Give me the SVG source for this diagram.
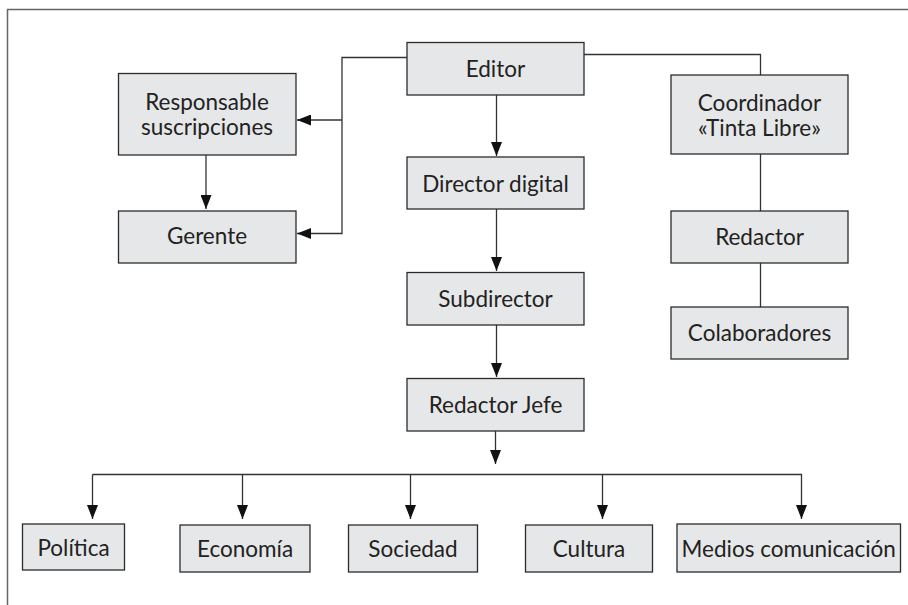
<svg xmlns="http://www.w3.org/2000/svg" width="908" height="605" viewBox="0 0 908 605">
<defs>
<style>
.box{fill:#e6e7e8;stroke:#2b2b2b;stroke-width:1.3}
.lbl{font-family:"Lato","Open Sans",sans-serif;font-size:22.5px;fill:#222;text-anchor:middle}
.ln{fill:none;stroke:#333;stroke-width:1.3}
.frame{fill:none;stroke:#666;stroke-width:1.5}
</style>
<marker id="ah" viewBox="0 0 14 11" refX="14" refY="5.5" markerWidth="14" markerHeight="11" markerUnits="userSpaceOnUse" orient="auto">
<path d="M0,0 L14,5.5 L0,11 z" fill="#111"/>
</marker>
</defs>
<rect width="908" height="605" fill="#fff"/>
<path class="frame" d="M7.5,605 V9.5 H908"/>
<g id="connectors">
<path class="ln" d="M407,57.5 H342 V233.5 H297" marker-end="url(#ah)"/>
<path class="ln" d="M342,120 H297" marker-end="url(#ah)"/>
<path class="ln" d="M584,54.5 H760.5 V75"/>
<path class="ln" d="M760.5,154 V211"/>
<path class="ln" d="M760.5,263 V307"/>
<path class="ln" d="M206,155 V209" marker-end="url(#ah)"/>
<path class="ln" d="M496.5,95 V156" marker-end="url(#ah)"/>
<path class="ln" d="M496.5,209 V271" marker-end="url(#ah)"/>
<path class="ln" d="M496.5,325 V377" marker-end="url(#ah)"/>
<path class="ln" d="M495.5,431 V464" marker-end="url(#ah)"/>
<path class="ln" d="M92.5,474.5 H801.5 V519" marker-end="url(#ah)"/>
<path class="ln" d="M92.5,474.5 V519" marker-end="url(#ah)"/>
<path class="ln" d="M242.5,474.5 V519" marker-end="url(#ah)"/>
<path class="ln" d="M410.5,474.5 V519" marker-end="url(#ah)"/>
<path class="ln" d="M602.5,474.5 V519" marker-end="url(#ah)"/>
</g>
<g id="editor"><rect class="box" x="407" y="42.5" width="177" height="52.5"/><text class="lbl" x="495.5" y="77">Editor</text></g>
<g id="responsable"><rect class="box" x="118.5" y="73.5" width="177.5" height="81.5"/><text class="lbl" x="207" y="110">Responsable</text><text class="lbl" x="207" y="135">suscripciones</text></g>
<g id="gerente"><rect class="box" x="118.5" y="211" width="177.5" height="52"/><text class="lbl" x="207" y="244">Gerente</text></g>
<g id="director"><rect class="box" x="407" y="157" width="177" height="52"/><text class="lbl" x="495.5" y="191.5">Director digital</text></g>
<g id="coordinador"><rect class="box" x="671" y="75" width="177" height="79"/><text class="lbl" x="759.5" y="110.5">Coordinador</text><text class="lbl" x="759.5" y="136">«Tinta Libre»</text></g>
<g id="redactor"><rect class="box" x="671" y="211" width="177" height="52"/><text class="lbl" x="759.5" y="245">Redactor</text></g>
<g id="colaboradores"><rect class="box" x="671" y="307" width="177" height="52"/><text class="lbl" x="759.5" y="341">Colaboradores</text></g>
<g id="subdirector"><rect class="box" x="407" y="272.5" width="177" height="52.5"/><text class="lbl" x="495.5" y="306.5">Subdirector</text></g>
<g id="redactorjefe"><rect class="box" x="407" y="378.5" width="177" height="52.5"/><text class="lbl" x="495.5" y="413">Redactor Jefe</text></g>
<g id="politica"><rect class="box" x="22.5" y="524" width="102" height="46"/><text class="lbl" x="73.5" y="556">Política</text></g>
<g id="economia"><rect class="box" x="180" y="525" width="130" height="47"/><text class="lbl" x="245" y="557">Economía</text></g>
<g id="sociedad"><rect class="box" x="348.5" y="525" width="129" height="47"/><text class="lbl" x="413" y="557">Sociedad</text></g>
<g id="cultura"><rect class="box" x="525.5" y="525" width="127" height="47"/><text class="lbl" x="589" y="557">Cultura</text></g>
<g id="medios"><rect class="box" x="677" y="524" width="223.5" height="48"/><text class="lbl" x="788.7" y="557">Medios comunicación</text></g>
</svg>
